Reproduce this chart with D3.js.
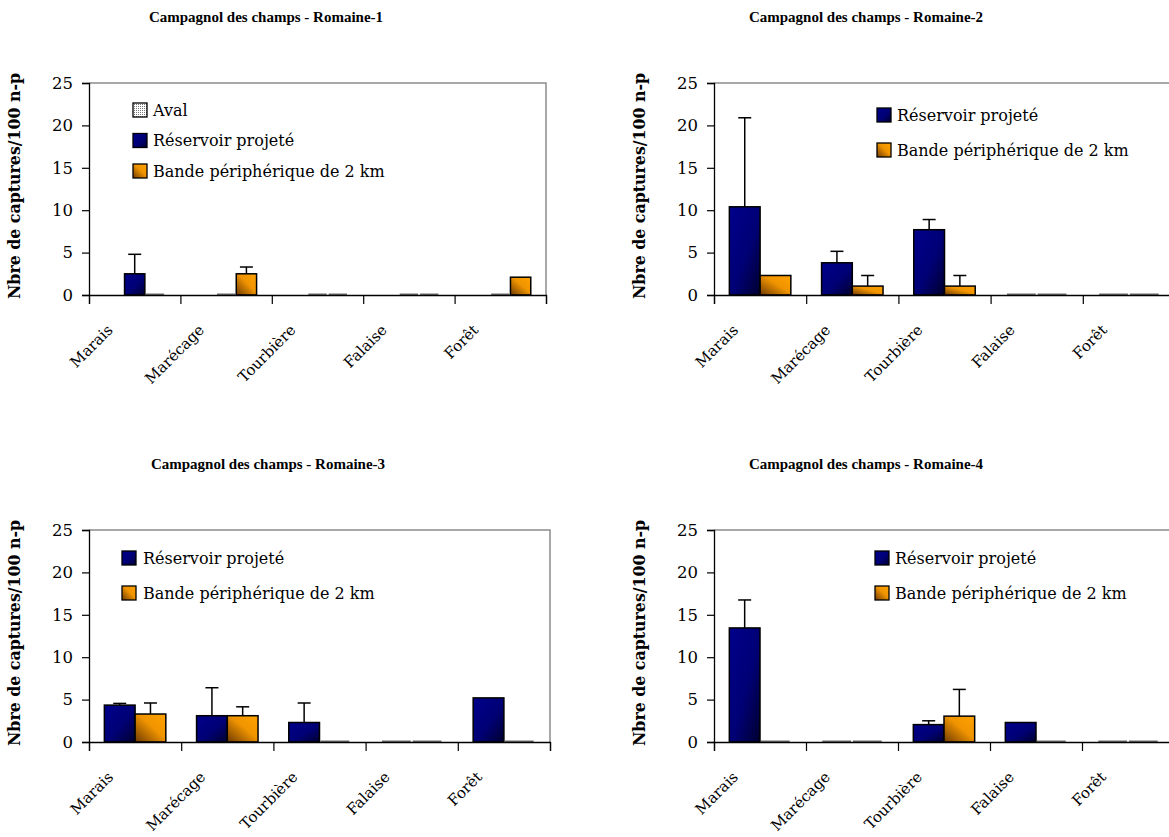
<!DOCTYPE html>
<html>
<head>
<meta charset="utf-8">
<script src="https://cdn.jsdelivr.net/npm/d3@7"></script>
<style>
  html, body { margin: 0; padding: 0; background: #fff; }
  svg { display: block; }
  text { font-family: "DejaVu Serif", "Liberation Serif", serif; fill: #000; }
</style>
</head>
<body>
<svg id="chart" width="1169" height="837"></svg>
<script>
// ---------- DATA ----------
const categories = ["Marais", "Marécage", "Tourbière", "Falaise", "Forêt"];
const yTicks = [0, 5, 10, 15, 20, 25];
const yLabel = "Nbre de captures/100 n-p";
const seriesAval = "Aval";
const seriesReservoir = "Réservoir projeté";
const seriesBande = "Bande périphérique de 2 km";

const titles = [
  "Campagnol des champs - Romaine-1",
  "Campagnol des champs - Romaine-2",
  "Campagnol des champs - Romaine-3",
  "Campagnol des champs - Romaine-4"
];

// Romaine-1 (three series; Aval has no bars)
const r1Aval       = [null, null, null, null, null];
const r1Reservoir  = [2.5, 0, 0, 0, 0];
const r1ReservoirE = [2.3, 0, 0, 0, 0];
const r1Bande      = [0, 2.5, 0, 0, 2.1];
const r1BandeE     = [0, 0.8, 0, 0, 0];

// Romaine-2
const r2Reservoir  = [10.4, 3.8, 7.7, 0, 0];
const r2ReservoirE = [10.5, 1.35, 1.2, 0, 0];
const r2Bande      = [2.3, 1.05, 1.05, 0, 0];
const r2BandeE     = [0, 1.25, 1.25, 0, 0];

// Romaine-3
const r3Reservoir  = [4.35, 3.1, 2.3, 0, 5.2];
const r3ReservoirE = [0.2, 3.3, 2.3, 0, 0];
const r3Bande      = [3.3, 3.1, 0, 0, 0];
const r3BandeE     = [1.3, 1.05, 0, 0, 0];

// Romaine-4
const r4Reservoir  = [13.45, 0, 2.05, 2.3, 0];
const r4ReservoirE = [3.3, 0, 0.45, 0, 0];
const r4Bande      = [0, 0, 3.05, 0, 0];
const r4BandeE     = [0, 0, 3.15, 0, 0];

// ---------- LAYOUT ----------
const svg = d3.select("#chart");
const defs = svg.append("defs");

const gNavy = defs.append("linearGradient").attr("id", "gNavy")
  .attr("x1", 0).attr("y1", 0).attr("x2", 1).attr("y2", 1);
gNavy.append("stop").attr("offset", "0%").attr("stop-color", "#00008c");
gNavy.append("stop").attr("offset", "55%").attr("stop-color", "#000075");
gNavy.append("stop").attr("offset", "100%").attr("stop-color", "#00002e");

const gOrange = defs.append("linearGradient").attr("id", "gOrange")
  .attr("x1", 1).attr("y1", 0).attr("x2", 0).attr("y2", 1);
gOrange.append("stop").attr("offset", "0%").attr("stop-color", "#ffa200");
gOrange.append("stop").attr("offset", "45%").attr("stop-color", "#f09400");
gOrange.append("stop").attr("offset", "100%").attr("stop-color", "#6e3a00");

const pat = defs.append("pattern").attr("id", "pDots")
  .attr("width", 2).attr("height", 2).attr("patternUnits", "userSpaceOnUse");
pat.append("rect").attr("width", 2).attr("height", 2).attr("fill", "#fff");
pat.append("rect").attr("width", 1).attr("height", 1).attr("fill", "#777");

const fills = { [seriesAval]: "url(#pDots)", [seriesReservoir]: "url(#gNavy)", [seriesBande]: "url(#gOrange)" };

const panels = [
  { title: titles[0], titleX: 266, titleY: 22, x0: 89, x1: 546, yT: 83, yB: 295,
    series: [
      { name: seriesAval, values: r1Aval, err: null },
      { name: seriesReservoir, values: r1Reservoir, err: r1ReservoirE },
      { name: seriesBande, values: r1Bande, err: r1BandeE }
    ],
    legend: { x: 133, y: 103, step: 30.5, box: 14, textDx: 20 }, pad: 0.6 },
  { title: titles[1], titleX: 866, titleY: 22, x0: 714, x1: 1175, yT: 83, yB: 295,
    series: [
      { name: seriesReservoir, values: r2Reservoir, err: r2ReservoirE },
      { name: seriesBande, values: r2Bande, err: r2BandeE }
    ],
    legend: { x: 877, y: 108, step: 35, box: 14, textDx: 20 }, pad: 0.4 },
  { title: titles[2], titleX: 268, titleY: 469, x0: 89, x1: 550, yT: 530, yB: 742,
    series: [
      { name: seriesReservoir, values: r3Reservoir, err: r3ReservoirE },
      { name: seriesBande, values: r3Bande, err: r3BandeE }
    ],
    legend: { x: 122, y: 551, step: 35, box: 14, textDx: 21 }, pad: 0.4 },
  { title: titles[3], titleX: 866, titleY: 469, x0: 714, x1: 1174, yT: 530, yB: 742,
    series: [
      { name: seriesReservoir, values: r4Reservoir, err: r4ReservoirE },
      { name: seriesBande, values: r4Bande, err: r4BandeE }
    ],
    legend: { x: 875, y: 551, step: 35, box: 14, textDx: 20 }, pad: 0.4 }
];

panels.forEach(p => {
  const g = svg.append("g");
  const y = d3.scaleLinear().domain([0, 25]).range([p.yB, p.yT]);
  const xb = d3.scaleBand().domain(categories).range([p.x0, p.x1]);
  const names = p.series.map(s => s.name);
  const bw = xb.bandwidth() / (names.length + p.pad * 2.5);
  const xs = d3.scaleBand().domain(names)
    .range([xb.bandwidth() / 2 - bw * names.length / 2, xb.bandwidth() / 2 + bw * names.length / 2]);

  // title
  g.append("text").attr("x", p.titleX).attr("y", p.titleY)
    .attr("text-anchor", "middle")
    .style("font-family", "'Liberation Serif', serif")
    .style("font-weight", "bold").style("font-size", "15px")
    .text(p.title);

  // frame (top + right in grey)
  g.append("path")
    .attr("d", `M${p.x0},${p.yT}H${p.x1}V${p.yB}`)
    .attr("fill", "none").attr("stroke", "#8c8c8c").attr("stroke-width", 1.5);

  // y axis
  const ya = g.append("g").attr("transform", `translate(${p.x0},0)`)
    .call(d3.axisLeft(y).tickValues(yTicks).tickSize(7).tickPadding(9));
  ya.select(".domain").attr("stroke", "#000").attr("stroke-width", 1.3);
  ya.selectAll(".tick line").attr("stroke", "#000").attr("stroke-width", 1.2);
  ya.selectAll(".tick text").style("font-size", "16.5px").style("font-family", "DejaVu Serif");

  // y axis title
  g.append("text")
    .attr("transform", `translate(${p.x0 - 69},${(p.yT + p.yB) / 2 - 3}) rotate(-90)`)
    .attr("text-anchor", "middle").style("font-weight", "bold").style("font-size", "15.8px")
    .text(yLabel);

  // bars
  p.series.forEach(s => {
    categories.forEach((c, i) => {
      const v = s.values[i];
      if (v === null || v === undefined) return;
      const bx = xb(c) + xs(s.name);
      if (v === 0) {
        g.append("line").attr("x1", bx + 1).attr("x2", bx + bw - 1)
          .attr("y1", y(0) - 0.5).attr("y2", y(0) - 0.5)
          .attr("stroke", "#6a6a6a").attr("stroke-width", 2);
        return;
      }
      g.append("rect").attr("x", bx).attr("y", y(v))
        .attr("width", bw).attr("height", y(0) - y(v))
        .attr("fill", fills[s.name]).attr("stroke", "#000").attr("stroke-width", 1.5);
      const e = s.err ? s.err[i] : 0;
      if (e && e > 0) {
        const cx = bx + bw / 2;
        g.append("line").attr("x1", cx).attr("x2", cx).attr("y1", y(v)).attr("y2", y(v + e))
          .attr("stroke", "#000").attr("stroke-width", 1.5);
        g.append("line").attr("x1", cx - 6.5).attr("x2", cx + 6.5).attr("y1", y(v + e)).attr("y2", y(v + e))
          .attr("stroke", "#000").attr("stroke-width", 1.5);
      }
    });
  });

  // x axis (ticks at category boundaries)
  const xi = d3.scaleLinear().domain([0, categories.length]).range([p.x0, p.x1]);
  const xa = g.append("g").attr("transform", `translate(0,${p.yB})`)
    .call(d3.axisBottom(xi).tickValues(d3.range(categories.length + 1)).tickSize(9).tickFormat(""));
  xa.select(".domain").attr("stroke", "#000").attr("stroke-width", 1.3);
  xa.selectAll(".tick line").attr("stroke", "#000").attr("stroke-width", 1.2);

  // x labels
  g.selectAll(".xl").data(categories).enter().append("text")
    .attr("transform", d => `translate(${xb(d) + xb.bandwidth() / 2 - 21},${p.yB + 36}) rotate(-45)`)
    .attr("text-anchor", "end").style("font-size", "15px")
    .text(d => d);

  // legend
  names.forEach((n, k) => {
    const ly = p.legend.y + k * p.legend.step;
    g.append("rect").attr("x", p.legend.x).attr("y", ly)
      .attr("width", p.legend.box).attr("height", p.legend.box)
      .attr("fill", fills[n]).attr("stroke", "#000").attr("stroke-width", 1.3);
    g.append("text").attr("x", p.legend.x + p.legend.textDx).attr("y", ly + p.legend.box - 1.5)
      .style("font-size", "16px").text(n);
  });
});
</script>
</body>
</html>
